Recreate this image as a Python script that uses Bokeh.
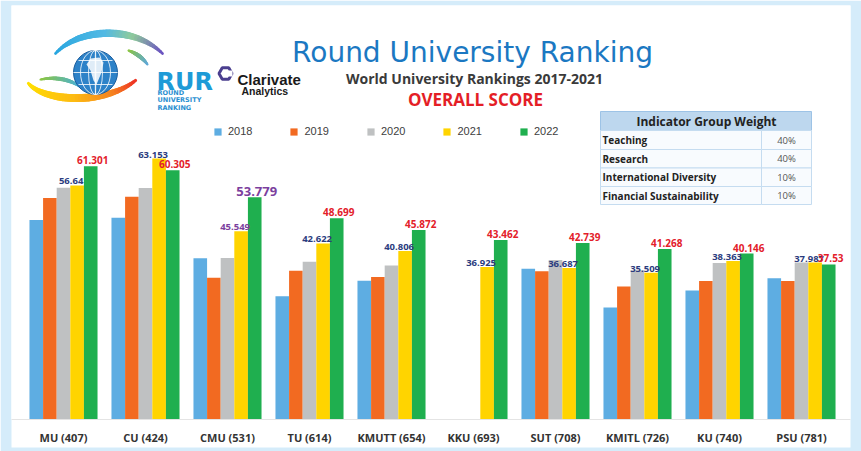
import numpy as np
from bokeh.plotting import figure
from bokeh.models import (ColumnDataSource, Range1d, Legend, LegendItem, FixedTicker)
from bokeh.transform import dodge
from bokeh.core.properties import value
from bokeh.embed import file_html
from bokeh.resources import INLINE

# ---------------- data ----------------
universities = ["MU (407)", "CU (424)", "CMU (531)", "TU (614)", "KMUTT (654)",
                "KKU (693)", "SUT (708)", "KMITL (726)", "KU (740)", "PSU (781)"]
years = ["2018", "2019", "2020", "2021", "2022"]
score_2018 = [48.3, 48.8, 39.0, 29.8, 33.6, None, 36.5, 27.1, 31.2, 34.2]
score_2019 = [53.6, 53.9, 34.3, 36.0, 34.5, None, 35.9, 32.2, 33.5, 33.5]
score_2020 = [56.1, 56.0, 39.1, 38.2, 37.3, None, 38.6, 36.1, 37.9, 38.0]
score_2021 = [56.64, 63.153, 45.549, 42.622, 40.806, 36.925, 36.687, 35.509, 38.363, 37.987]
score_2022 = [61.301, 60.305, 53.779, 48.699, 45.872, 43.462, 42.739, 41.268, 40.146, 37.53]
highlight = "CMU (531)"

weight_names = ["Teaching", "Research", "International  Diversity", "Financial  Sustainability"]
weight_values = ["40%", "40%", "10%", "10%"]

series = [score_2018, score_2019, score_2020, score_2021, score_2022]
colors = ["#5EADE2", "#F26A21", "#BFC1C2", "#FFD400", "#1FAF4F"]

# ---------------- layout ----------------
W, H = 861, 451
ML, MR, MT, MB = 11, 11, 5, 32
FW, FH = W - ML - MR, H - MT - MB
OX, OY = ML, MT                  # image position of frame's top-left
GROUP_PX, FIRST_CENTER_PX = 82.0, 63.0
BAR_W = 0.166
PX_PER_UNIT = 4.132
n = len(universities)
centers = [i + 0.5 for i in range(n)]
x_start = 0.5 - (FIRST_CENTER_PX - OX) / GROUP_PX
x_end = x_start + FW / GROUP_PX
BG = "#D5ECFA"

p = figure(width=W, height=H, x_range=Range1d(x_start, x_end),
           y_range=Range1d(0, FH / PX_PER_UNIT),
           output_backend="svg", toolbar_location=None, y_axis_location=None,
           min_border_left=ML, min_border_right=MR, min_border_top=MT, min_border_bottom=MB,
           background_fill_color="white", border_fill_color=BG,
           outline_line_color=None)
p.extra_x_ranges = {"px": Range1d(0, FW)}
p.extra_y_ranges = {"px": Range1d(FH, 0)}

def ix(v):
    return np.asarray(v, dtype=float) - OX

def iy(v):
    return np.asarray(v, dtype=float) - OY

PX = dict(x_range_name="px", y_range_name="px")

# ---------------- bars ----------------
renderers = []
for k, (yr, vals, col) in enumerate(zip(years, series, colors)):
    keep = [i for i, v in enumerate(vals) if v is not None]
    src = ColumnDataSource(dict(uni=[universities[i] for i in keep],
                                pos=[centers[i] for i in keep],
                                score=[vals[i] for i in keep]))
    r = p.vbar(x=dodge("pos", (k - 2) * BAR_W), top="score",
               width=BAR_W, source=src, fill_color=col, line_color=None)
    renderers.append(r)

# ---------------- value labels ----------------
navy, red, purple = "#2B3C7E", "#E3202A", "#7B3F9E"
lab21 = ColumnDataSource(dict(
    pos=centers, score=score_2021, text=[str(v) for v in score_2021],
    color=[purple if u == highlight else navy for u in universities]))
p.text(x=dodge("pos", 1 * BAR_W), y="score", text="text",
       source=lab21, text_color="color", text_font=value("Open Sans"),
       text_font_style="bold", text_font_size="9.5px", text_align="center",
       text_baseline="alphabetic", x_offset=-6, y_offset=-4)

lab22 = ColumnDataSource(dict(
    pos=centers, score=score_2022, text=[str(v) for v in score_2022],
    color=[purple if u == highlight else red for u in universities],
    size=["13px" if u == highlight else "10px" for u in universities]))
p.text(x=dodge("pos", 2 * BAR_W), y="score", text="text",
       source=lab22, text_color="color", text_font=value("Open Sans"),
       text_font_style="bold", text_font_size="size", text_align="center",
       text_baseline="alphabetic", x_offset=2, y_offset=-6)

# ---------------- axis ----------------
ax = p.xaxis[0]
ax.ticker = FixedTicker(ticks=centers)
ax.major_label_overrides = {c: u for c, u in zip(centers, universities)}
ax.major_label_text_font = "Open Sans"
ax.major_label_text_font_style = "bold"
ax.major_label_text_font_size = "11px"
ax.major_label_text_color = "#333333"
ax.axis_line_color = "#E4E4E4"
ax.major_tick_line_color = None
ax.minor_tick_line_color = None
ax.major_tick_out = 0
ax.major_tick_in = 0
ax.major_label_standoff = 10
try:
    ax.background_fill_color = "white"
except Exception:
    pass
p.xgrid.grid_line_color = None
p.ygrid.grid_line_color = None

# ---------------- legend ----------------
legend = Legend(items=[LegendItem(label=yr, renderers=[r]) for yr, r in zip(years, renderers)],
                orientation="horizontal", location=(213 - OX, 282),
                glyph_width=9, glyph_height=9, label_standoff=6, spacing=37,
                padding=0, margin=0, border_line_color=None, background_fill_alpha=0,
                label_text_font="Liberation Sans", label_text_font_size="11px",
                label_text_color="#404040")
p.add_layout(legend)

# ---------------- titles ----------------
p.text(x=ix([472]), y=iy([52]), text=["Round University Ranking"], text_font=value("DejaVu Sans"),
       text_font_size="28px", text_color="#1B78C2", text_align="center",
       text_baseline="alphabetic", **PX)
p.text(x=ix([474]), y=iy([78]), text=["World University Rankings 2017-2021"],
       text_font=value("Open Sans"), text_font_style="bold", text_font_size="14px",
       text_color="#3A3A3A", text_align="center", text_baseline="alphabetic", **PX)
p.text(x=ix([475]), y=iy([99]), text=["OVERALL SCORE"], text_font=value("Open Sans"),
       text_font_style="bold", text_font_size="17px", text_color="#E41E26",
       text_align="center", text_baseline="alphabetic", **PX)

# ---------------- logo (decoration) ----------------
def bez(P, npts=40):
    t = np.linspace(0, 1, npts)[:, None]
    P = np.asarray(P, dtype=float)
    return ((1 - t) ** 3 * P[0] + 3 * (1 - t) ** 2 * t * P[1]
            + 3 * (1 - t) * t ** 2 * P[2] + t ** 3 * P[3]), t[:, 0]

def hexrgb(h):
    return np.array([int(h[i:i + 2], 16) for i in (1, 3, 5)], dtype=float)

def grad(stops, t):
    pos = [s[0] for s in stops]
    cols = [hexrgb(s[1]) for s in stops]
    out = []
    for tv in t:
        c = np.array([np.interp(tv, pos, [cc[j] for cc in cols]) for j in range(3)])
        out.append("#%02x%02x%02x" % tuple(int(round(v)) for v in c))
    return out

def arc(P, stops, w0, w1):
    pts, t = bez(P)
    tm = (t[:-1] + t[1:]) / 2
    p.segment(x0=ix(pts[:-1, 0]), y0=iy(pts[:-1, 1]), x1=ix(pts[1:, 0]), y1=iy(pts[1:, 1]),
              line_color=grad(stops, tm), line_width=list(w0 + w1 * np.sin(np.pi * tm)),
              line_cap="round", **PX)

arc([(55, 53), (80, 26), (135, 26), (162, 53)],
    [(0, "#27A6E0"), (0.5, "#52B9E3"), (0.72, "#8FCB9B"), (1, "#6A4FC2")], 2.5, 5)
arc([(128, 50), (136, 53), (142, 57), (147, 64)],
    [(0, "#8DC63F"), (1, "#5FA8D8")], 2, 2)
arc([(28, 83), (45, 102), (105, 104), (135, 80)],
    [(0, "#FFE200"), (0.5, "#FDBB13"), (0.8, "#F58220"), (1, "#EE3124")], 3, 5)
arc([(40, 79), (55, 76), (70, 79), (79, 86)],
    [(0, "#8DC63F"), (1, "#48B0DC")], 2, 2)

p.scatter(x=ix([95]), y=iy([72]), size=44, fill_color="#2D82C8", line_color="#1B5E9E", **PX)
p.ellipse(x=ix([95, 95, 95]), y=iy([72, 72, 72]), width=[14, 30, 0.5], height=[44, 44, 44],
          fill_color=None, line_color="white", line_alpha=0.8, line_width=1, **PX)
for yy, half in [(60, 17), (72, 22), (84, 17)]:
    p.segment(x0=ix([95 - half]), y0=iy([yy]), x1=ix([95 + half]), y1=iy([yy]),
              line_color="white", line_alpha=0.8, line_width=1, **PX)
p.patch(x=ix([90, 99, 103, 101, 96, 93, 90, 86]), y=iy([58, 57, 62, 72, 84, 80, 70, 64]),
        fill_color="white", fill_alpha=0.85, line_color=None, **PX)

p.text(x=ix([156]), y=iy([81]), text=["RUR"], text_font=value("DejaVu Sans"),
       text_font_style="bold", text_font_size="24px", text_color="#1E9BD7",
       text_baseline="alphabetic", **PX)
p.text(x=ix([157, 157, 157]), y=iy([92, 99.5, 107]), text=["ROUND", "UNIVERSITY", "RANKING"],
       text_font=value("DejaVu Sans"), text_font_style="bold", text_font_size="6.5px",
       text_color="#2B8FD1", text_baseline="alphabetic", **PX)
p.scatter(x=ix([225]), y=iy([73]), marker="hex", size=13, fill_color=None,
          line_color="#4B3F8F", line_width=3, **PX)
p.scatter(x=ix([229]), y=iy([73]), marker="square", size=6, fill_color="white",
          line_color=None, **PX)
p.text(x=ix([237]), y=iy([79]), text=["Clarivate"], text_font=value("Liberation Sans"),
       text_font_style="bold", text_font_size="15px", text_color="#1A1A1A",
       text_baseline="alphabetic", **PX)
p.text(x=ix([241]), y=iy([90]), text=["Analytics"], text_font=value("Liberation Sans"),
       text_font_style="bold", text_font_size="10.5px", text_color="#1A1A1A",
       text_baseline="alphabetic", **PX)

# ---------------- weight table (decoration) ----------------
T_L, T_C, T_R = 600, 761, 811
row_edges = [111, 130, 149, 167.5, 186, 204]
p.quad(left=ix([T_L]), right=ix([T_R]), top=iy([row_edges[0]]), bottom=iy([row_edges[1]]),
       fill_color="#BDD7EE", line_color="#9DC3E6", line_width=1, **PX)
for i in range(4):
    for l, r in [(T_L, T_C), (T_C, T_R)]:
        p.quad(left=ix([l]), right=ix([r]), top=iy([row_edges[i + 1]]),
               bottom=iy([row_edges[i + 2]]), fill_color="#F8FBFE",
               line_color="#C5DCF0", line_width=1, **PX)
p.text(x=ix([706]), y=iy([121]), text=["Indicator Group Weight"], text_font=value("Open Sans"),
       text_font_style="bold", text_font_size="12px", text_color="#222222",
       text_align="center", text_baseline="middle", **PX)
mids = [(row_edges[i + 1] + row_edges[i + 2]) / 2 for i in range(4)]
p.text(x=ix([602] * 4), y=iy(mids), text=weight_names, text_font=value("Open Sans"),
       text_font_style="bold", text_font_size="10px", text_color="#222222",
       text_baseline="middle", **PX)
p.text(x=ix([786] * 4), y=iy(mids), text=weight_values, text_font=value("Open Sans"),
       text_font_size="9.5px", text_color="#555555", text_align="center",
       text_baseline="middle", **PX)

open("out.html", "w").write(file_html(p, INLINE))
